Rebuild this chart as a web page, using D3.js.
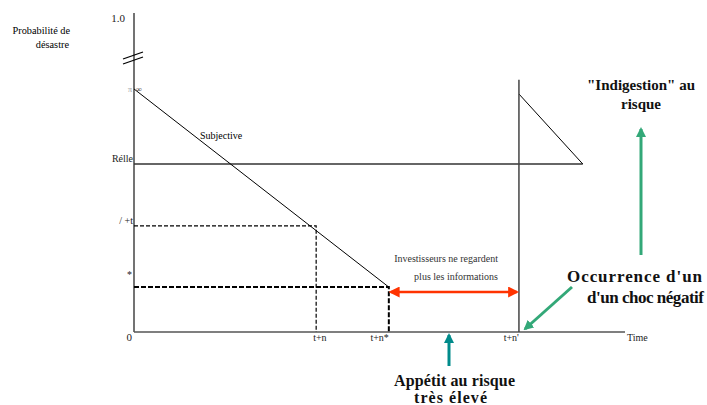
<!DOCTYPE html>
<html>
<head>
<meta charset="utf-8">
<script src="https://cdn.jsdelivr.net/npm/d3@7"></script>
<style>
  body { margin: 0; background: #fff; }
</style>
</head>
<body>
<svg id="chart" width="707" height="405"></svg>
<script>
// time points (arbitrary units) and their labels
const timeKeys = ['tn', 'tnStar', 'tnPrime', 'tEnd'];
const timeValues = [37.1, 51.9, 78.4, 91.4];
const timeLabels = ["t+n", "t+n*", "t+n'", ''];

// probability levels (arbitrary units, axis is broken above)
const probKeys = ['top', 'start', 'relle', 'pt', 'star'];
const probValues = [100, 77.4, 53.5, 33.8, 14.3];
const probLabels = ['1.0', '', 'Rélle', '/ +t', '*'];

// curves
const subjective1 = [[0, 77.4], [51.9, 14.3]];
const subjective2 = [[78.4, 75.8], [91.4, 53.5]];
const reelle = [[0, 53.5], [91.4, 53.5]];
const jump = [[78.4, 0], [78.4, 80.3]];

const svg = d3.select('#chart').style('font-family', '"Liberation Serif", serif');
const x = d3.scaleLinear().domain([0, 100]).range([134, 625]);
const y = d3.scaleLinear().domain([0, 100]).range([332, 18]);
const line = d3.line().x(d => x(d[0])).y(d => y(d[1]));

const T = {};
timeKeys.forEach((k, i) => (T[k] = timeValues[i]));
const P = {};
probKeys.forEach((k, i) => (P[k] = probValues[i]));

// axes
svg.append('line')
  .attr('x1', x(0)).attr('x2', x(0))
  .attr('y1', y(0)).attr('y2', y(101.6))
  .attr('stroke', '#444').attr('stroke-width', 1.5);
svg.append('line')
  .attr('x1', x(0)).attr('x2', x(100))
  .attr('y1', y(0)).attr('y2', y(0))
  .attr('stroke', '#555').attr('stroke-width', 1.5);

// axis break
[0, 5].forEach(o => {
  svg.append('line')
    .attr('x1', 123).attr('y1', 59 + o)
    .attr('x2', 143).attr('y2', 52 + o)
    .attr('stroke', '#000').attr('stroke-width', 1.3);
});

// dashed guides
svg.append('path')
  .attr('d', line([[0, P.pt], [T.tn, P.pt], [T.tn, 0]]))
  .attr('fill', 'none').attr('stroke', '#000')
  .attr('stroke-width', 1.2).attr('stroke-dasharray', '4,2');
svg.append('path')
  .attr('d', line([[0, P.star], [T.tnStar, P.star], [T.tnStar, 0]]))
  .attr('fill', 'none').attr('stroke', '#000')
  .attr('stroke-width', 2).attr('stroke-dasharray', '5,2');

// curves
svg.append('path').attr('d', line(reelle))
  .attr('fill', 'none').attr('stroke', '#333').attr('stroke-width', 1.3);
[subjective1, subjective2].forEach(s => {
  svg.append('path').attr('d', line(s))
    .attr('fill', 'none').attr('stroke', '#000').attr('stroke-width', 1);
});
svg.append('path').attr('d', line(jump))
  .attr('fill', 'none').attr('stroke', '#444').attr('stroke-width', 1.5);

// y labels
const yLab = svg.append('g').attr('fill', '#222');
probKeys.forEach((k, i) => {
  if (!probLabels[i]) return;
  yLab.append('text')
    .attr('x', k === 'star' ? 132 : (k === 'top' ? 125 : 133))
    .attr('y', y(P[k]) + (k === 'top' ? 4 : (k === 'star' ? -9 : -2)))
    .attr('text-anchor', 'end')
    .attr('font-size', k === 'top' ? 11 : 10)
    .text(probLabels[i]);
});
yLab.append('text').attr('x', 132).attr('y', y(P.start) + 3)
  .attr('text-anchor', 'end').attr('fill', '#999').attr('font-size', 8).text('π');
yLab.append('text').attr('x', 136).attr('y', y(P.start) + 3)
  .attr('font-size', 8).attr('font-weight', 'bold').text('∞');
yLab.append('text').attr('x', 132).attr('y', 341)
  .attr('text-anchor', 'end').attr('font-size', 11).text('0');

svg.append('text').attr('x', 70).attr('y', 34)
  .attr('text-anchor', 'end').attr('font-size', 10.3).text('Probabilité de');
svg.append('text').attr('x', 69).attr('y', 48)
  .attr('text-anchor', 'end').attr('font-size', 10.3).text('désastre');
svg.append('text').attr('x', 200).attr('y', 139)
  .attr('font-size', 10).text('Subjective');

// x labels
const xLab = svg.append('g').attr('font-size', 10).attr('fill', '#222');
timeKeys.forEach((k, i) => {
  if (!timeLabels[i]) return;
  xLab.append('text')
    .attr('x', k === 'tn' ? x(T[k]) - 3 : x(T[k]))
    .attr('y', 341)
    .attr('text-anchor', k === 'tn' ? 'start' : 'end')
    .text(timeLabels[i]);
});
xLab.append('text').attr('x', 627).attr('y', 341).text('Time');

// arrows
const defs = svg.append('defs');
function marker(id, color, w, h) {
  defs.append('marker')
    .attr('id', id).attr('viewBox', '0 0 10 10')
    .attr('refX', 8).attr('refY', 5)
    .attr('markerWidth', w).attr('markerHeight', h)
    .attr('markerUnits', 'userSpaceOnUse')
    .attr('orient', 'auto-start-reverse')
    .append('path').attr('d', 'M0,0L10,5L0,10z').attr('fill', color);
}
marker('red', '#ff3300', 11, 11);
marker('green', '#33a878', 10, 10);
marker('teal', '#008b8b', 10, 10);

svg.append('line')
  .attr('x1', x(T.tnStar) + 2).attr('x2', x(T.tnPrime) - 2)
  .attr('y1', 292).attr('y2', 292)
  .attr('stroke', '#ff3300').attr('stroke-width', 2.5)
  .attr('marker-start', 'url(#red)').attr('marker-end', 'url(#red)');

svg.append('line')
  .attr('x1', 641).attr('y1', 255).attr('x2', 641).attr('y2', 129)
  .attr('stroke', '#33a878').attr('stroke-width', 3)
  .attr('marker-end', 'url(#green)');
svg.append('line')
  .attr('x1', 572).attr('y1', 287).attr('x2', 525).attr('y2', 329)
  .attr('stroke', '#33a878').attr('stroke-width', 3)
  .attr('marker-end', 'url(#green)');
svg.append('line')
  .attr('x1', 449).attr('y1', 366).attr('x2', 449).attr('y2', 335)
  .attr('stroke', '#008b8b').attr('stroke-width', 3)
  .attr('marker-end', 'url(#teal)');

// annotations
svg.append('text').attr('x', 498).attr('y', 262)
  .attr('text-anchor', 'end').attr('font-size', 10).attr('fill', '#333')
  .text('Investisseurs ne regardent');
svg.append('text').attr('x', 498).attr('y', 280)
  .attr('text-anchor', 'end').attr('font-size', 10).attr('fill', '#333')
  .text('plus les informations');

const bold = svg.append('g').attr('font-weight', 'bold').attr('fill', '#111');
bold.append('text').attr('x', 641).attr('y', 90).attr('font-size', 15)
  .attr('text-anchor', 'middle').text('"Indigestion" au');
bold.append('text').attr('x', 641).attr('y', 109).attr('font-size', 15)
  .attr('text-anchor', 'middle').text('risque');
bold.append('text').attr('x', 567).attr('y', 282).attr('font-size', 17)
  .attr('textLength', 135).text("Occurrence d'un");
bold.append('text').attr('x', 587).attr('y', 303).attr('font-size', 17)
  .attr('textLength', 117).text("d'un choc négatif");
bold.append('text').attr('x', 394).attr('y', 386).attr('font-size', 16)
  .attr('textLength', 121).text('Appétit au risque');
bold.append('text').attr('x', 414).attr('y', 403).attr('font-size', 16)
  .attr('textLength', 73).text('très élevé');
</script>
</body>
</html>
